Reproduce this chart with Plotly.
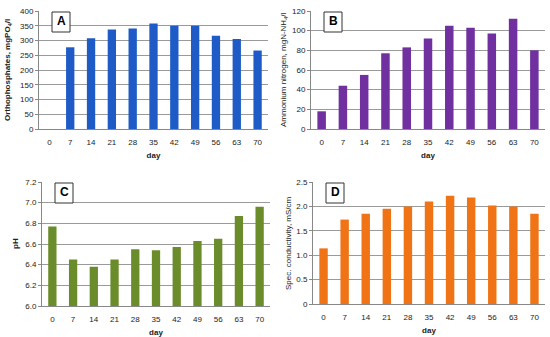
import plotly.graph_objects as go

days = ["0", "7", "14", "21", "28", "35", "42", "49", "56", "63", "70"]
ortho = [0, 277, 308, 337, 341, 358, 350, 350, 316, 305, 266]
ammon = [18, 44, 55, 77, 83, 92, 105, 103, 97, 112, 80]
ph = [6.77, 6.45, 6.38, 6.45, 6.55, 6.54, 6.57, 6.63, 6.65, 6.87, 6.96]
cond = [1.14, 1.73, 1.85, 1.95, 2.00, 2.10, 2.22, 2.18, 2.02, 2.00, 1.85]

ticks_a = [0, 50, 100, 150, 200, 250, 300, 350, 400]
ticks_b = [0, 20, 40, 60, 80, 100, 120]
ticks_c = [6.0, 6.2, 6.4, 6.6, 6.8, 7.0, 7.2]
labels_c = ["6.0", "6.2", "6.4", "6.6", "6.8", "7.0", "7.2"]
ticks_d = [0, 0.5, 1.0, 1.5, 2.0, 2.5]
labels_d = ["0", "0.5", "1.0", "1.5", "2.0", "2.5"]

W, H = 550, 337
def px(x): return x / W
def py(y): return 1 - y / H

panels = [
    dict(vals=ortho, color="#1F5BC6", x0=39, x1=268, y0=11, y1=129, rng=[0, 400],
         tv=ticks_a, tt=[str(v) for v in ticks_a],
         title="Orthophosphates, mgPO<sub>4</sub>/l", bold=True, letter="A", tx=8),
    dict(vals=ammon, color="#7030A0", x0=311, x1=545, y0=11, y1=129, rng=[0, 120],
         tv=ticks_b, tt=[str(v) for v in ticks_b],
         title="Ammonium nitrogen, mgN-NH<sub>4</sub>/l", bold=False, letter="B", tx=284),
    dict(vals=ph, color="#6A8C2A", x0=42, x1=270, y0=182, y1=306, rng=[6.0, 7.2],
         tv=ticks_c, tt=labels_c,
         title="pH", bold=True, letter="C", tx=15),
    dict(vals=cond, color="#F07415", x0=313, x1=545, y0=182, y1=304, rng=[0, 2.5],
         tv=ticks_d, tt=labels_d,
         title="Spec. conductivity, mS/cm", bold=False, letter="D", tx=288),
]

fig = go.Figure()
font = dict(family="Liberation Sans, Arial, sans-serif", size=8, color="#222")
annotations = []
shapes = []
for i, p in enumerate(panels):
    n = "" if i == 0 else str(i + 1)
    xa, ya = "xaxis" + n, "yaxis" + n
    fig.add_trace(go.Bar(x=days, y=p["vals"], marker=dict(color=p["color"], line=dict(width=0)),
                         xaxis="x" + n, yaxis="y" + n, showlegend=False))
    fig.layout[xa] = dict(domain=[px(p["x0"]), px(p["x1"])], anchor="y" + n, type="category",
                          range=[-0.5, 10.5], showline=True, linecolor="#888", linewidth=1,
                          ticks="", tickfont=font, showgrid=False, fixedrange=True,
                          ticklabelstandoff=5, automargin=False,
                          title=dict(text="<b>day</b>", font=font, standoff=6))
    fig.layout[ya] = dict(domain=[py(p["y1"]), py(p["y0"])], anchor="x" + n, range=p["rng"],
                          tickmode="array", tickvals=p["tv"], ticktext=p["tt"],
                          showline=True, linecolor="#888", linewidth=1, ticks="outside",
                          ticklen=3, tickcolor="#888", tickfont=font, showgrid=True,
                          automargin=False,
                          gridcolor="#9a9a9a", gridwidth=1, zeroline=False, fixedrange=True)
    t = "<b>%s</b>" % p["title"] if p["bold"] else p["title"]
    annotations.append(dict(text=t, x=px(p["tx"]), y=py((p["y0"] + p["y1"]) / 2), xref="paper",
                            yref="paper", textangle=-90, showarrow=False, font=font,
                            xanchor="center", yanchor="middle"))
    bx0 = p["x0"] + 13
    annotations.append(dict(text="<b>%s</b>" % p["letter"], x=px(bx0 + 9), y=py(p["y0"] + 10),
                            xref="paper", yref="paper", showarrow=False,
                            font=dict(family="Liberation Sans, Arial, sans-serif", size=12, color="#000"),
                            xanchor="center", yanchor="middle"))
    shapes.append(dict(type="rect", xref="paper", yref="paper", x0=px(bx0), x1=px(bx0 + 18),
                       y0=py(p["y0"] + 1), y1=py(p["y0"] + 21), line=dict(color="#333", width=1),
                       fillcolor="white", layer="above"))

fig.update_layout(width=W, height=H, margin=dict(l=0, r=0, t=0, b=0), bargap=0.6,
                  plot_bgcolor="white", paper_bgcolor="white", annotations=annotations,
                  shapes=shapes, font=font)
fig.write_html("out.html", config={"displayModeBar": False},
               post_script="document.body.style.margin='0';document.body.style.overflow='hidden';")
